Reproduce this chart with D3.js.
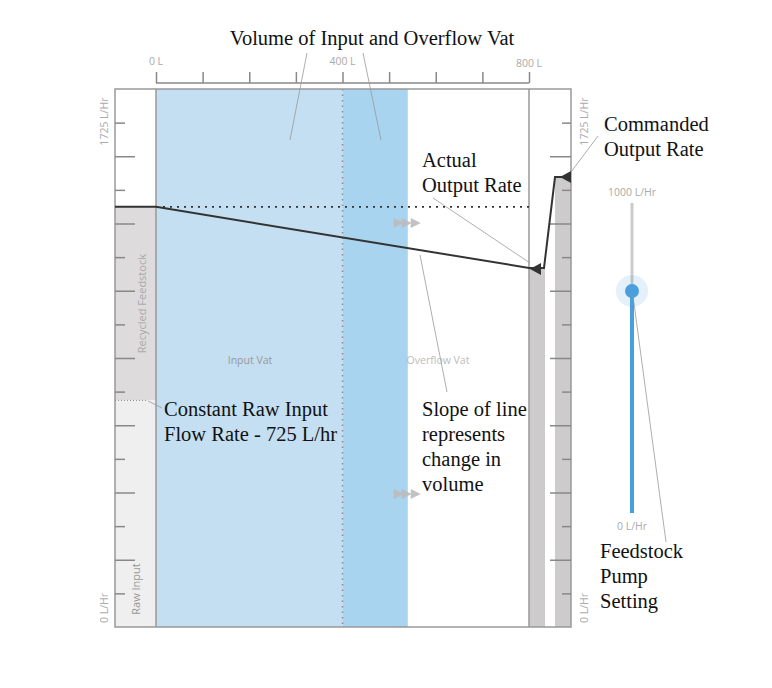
<!DOCTYPE html>
<html>
<head>
<meta charset="utf-8">
<script src="https://cdn.jsdelivr.net/npm/d3@7"></script>
<style>
  body { margin: 0; background: #fff; }
  .small { font-family: "Open Sans", sans-serif; font-size: 10.5px; fill: #aaa; }
  .note { font-family: "Liberation Serif", "Times New Roman", serif; font-size: 20.5px; fill: #111; }
  .leader { stroke: #999; stroke-width: 0.8; fill: none; }
</style>
</head>
<body>
<script>
// ---------------- data ----------------
const volumeTicks = [0, 100, 200, 300, 400, 500, 600, 700, 800];
const volumeLabels = [0, 400, 800];
const rateTicks = [115, 230, 345, 460, 575, 690, 805, 920, 1035, 1150, 1265, 1380, 1495, 1610, 1725];
const rateLabels = [0, 1725];

const inputVatVolume = 400;     // L
const overflowVatVolume = 540;  // L (cumulative end)
const rawInputRate = 775;       // L/Hr
const totalInputRate = 1437;    // L/Hr
const actualOutputRate = 1228;  // L/Hr
const commandedOutputRate = 1539; // L/Hr
const pumpSetting = 716;        // L/Hr, of 1000
const pumpRange = [0, 1000];

const W = 772, H = 688;
const svg = d3.select('body').append('svg').attr('width', W).attr('height', H);

// main scales
const x = d3.scaleLinear().domain([0, 800]).range([156, 529]);
const y = d3.scaleLinear().domain([0, 1840]).range([627, 89]);
const frameLeft = 115, frameRight = 571;
const col1 = [529, 545], col2 = [555, 571];

// ---------------- backgrounds ----------------
const g = svg.append('g');

// left strip: recycled + raw input
g.append('rect').attr('x', frameLeft).attr('width', x(0) - frameLeft)
	.attr('y', y(totalInputRate)).attr('height', y(rawInputRate) - y(totalInputRate)).attr('fill', '#dddbdc');
g.append('rect').attr('x', frameLeft).attr('width', x(0) - frameLeft)
	.attr('y', y(rawInputRate)).attr('height', y(0) - y(rawInputRate)).attr('fill', '#efefef');

// vats
g.append('rect').attr('x', x(0)).attr('width', x(inputVatVolume) - x(0))
	.attr('y', y.range()[1]).attr('height', y(0) - y.range()[1]).attr('fill', '#c3dff1');
g.append('rect').attr('x', x(inputVatVolume)).attr('width', x(overflowVatVolume) - x(inputVatVolume))
	.attr('y', y.range()[1]).attr('height', y(0) - y.range()[1]).attr('fill', '#a8d4f0');

// output columns
g.append('rect').attr('x', col1[0]).attr('width', col1[1] - col1[0])
	.attr('y', y(actualOutputRate)).attr('height', y(0) - y(actualOutputRate)).attr('fill', '#cdcbcc');
g.append('rect').attr('x', col2[0]).attr('width', col2[1] - col2[0])
	.attr('y', y(commandedOutputRate)).attr('height', y(0) - y(commandedOutputRate)).attr('fill', '#cdcbcc');

// vertical dotted at 400 L
g.append('line').attr('x1', x(400)).attr('x2', x(400)).attr('y1', y.range()[1]).attr('y2', y(0))
	.attr('stroke', '#8a8f96').attr('stroke-width', 1.5).attr('stroke-dasharray', '1.5,4');

// frame
g.append('rect').attr('x', frameLeft).attr('y', y.range()[1])
	.attr('width', frameRight - frameLeft).attr('height', y(0) - y.range()[1])
	.attr('fill', 'none').attr('stroke', '#999').attr('stroke-width', 1.5);
[x(0), x(800)].forEach((xx) => {
	g.append('line').attr('x1', xx).attr('x2', xx).attr('y1', y.range()[1]).attr('y2', y(0))
		.attr('stroke', '#999').attr('stroke-width', 1.5);
});

// ---------------- axes ----------------
// top volume axis
const topAxis = svg.append('g').attr('transform', 'translate(0,83)')
	.call(d3.axisTop(x).tickValues(volumeTicks).tickSize(11).tickFormat(''));
topAxis.select('.domain').attr('stroke', '#888').attr('stroke-width', 1.5).attr('d', `M${x(0)},0H${x(800)}`);
topAxis.selectAll('.tick line').attr('stroke', '#888').attr('stroke-width', 1.5);
svg.selectAll('.vlab').data(volumeLabels).join('text').attr('class', 'small')
	.attr('x', (d) => x(d)).attr('y', (d) => (d === 800 ? 67 : 65)).attr('text-anchor', 'middle')
	.text((d) => `${d} L`);

// left rate ticks
const leftAxis = svg.append('g').attr('transform', `translate(${frameLeft},0)`)
	.call(d3.axisRight(y).tickValues(rateTicks).tickSize(10).tickFormat(''));
leftAxis.select('.domain').remove();
leftAxis.selectAll('.tick line').attr('stroke', '#888').attr('stroke-width', 1.5)
	.attr('x2', (d, i) => (i % 2 === 1 ? 20 : 10));

// right rate ticks
const rightAxis = svg.append('g').attr('transform', `translate(${frameRight},0)`)
	.call(d3.axisLeft(y).tickValues(rateTicks).tickSize(9).tickFormat(''));
rightAxis.select('.domain').remove();
rightAxis.selectAll('.tick line').attr('stroke', '#888').attr('stroke-width', 1.5)
	.attr('x2', (d, i) => (i % 2 === 1 ? -21 : -9));

// rotated rate labels
const rateLab = (xx, d) => {
	const yy = d === 0 ? y(0) - 4 : y(d) + 23;
	svg.append('text').attr('class', 'small')
		.attr('transform', `translate(${xx},${yy}) rotate(-90)`)
		.text(`${d} L/Hr`);
};
rateLabels.forEach((d) => { rateLab(108, d); rateLab(588, d); });

// in-chart labels
svg.append('text').attr('class', 'small').style('font-size', '11px')
	.attr('transform', `translate(146,${(y(totalInputRate) + y(rawInputRate)) / 2}) rotate(-90)`)
	.attr('text-anchor', 'middle').text('Recycled Feedstock');
svg.append('text').attr('class', 'small').style('font-size', '11px')
	.attr('transform', `translate(140,${y(0) - 38}) rotate(-90)`)
	.attr('text-anchor', 'middle').style('fill', '#999').text('Raw Input');
svg.append('text').attr('class', 'small').style('fill', '#999')
	.attr('x', 250).attr('y', 364).attr('text-anchor', 'middle').text('Input Vat');
svg.append('text').attr('class', 'small').style('fill', '#bbb')
	.attr('x', 438).attr('y', 364).attr('text-anchor', 'middle').text('Overflow Vat');

// flow arrows
[223, 494].forEach((yy) => {
	[0, 8, 17].forEach((dx) => {
		const x0 = x(overflowVatVolume) - 14 + dx;
		svg.append('path').attr('d', `M${x0},${yy - 5}L${x0 + 10},${yy}L${x0},${yy + 5}Z`)
			.attr('fill', '#bbb').attr('opacity', 0.9);
	});
});

// ---------------- rate lines ----------------
svg.append('line').attr('x1', x(0)).attr('x2', x(800))
	.attr('y1', y(totalInputRate)).attr('y2', y(totalInputRate))
	.attr('stroke', '#333').attr('stroke-width', 1.8).attr('stroke-dasharray', '2,5');

// raw input dotted marker
svg.append('line').attr('x1', frameLeft).attr('x2', x(0) - 8)
	.attr('y1', y(rawInputRate)).attr('y2', y(rawInputRate))
	.attr('stroke', '#888').attr('stroke-width', 1).attr('stroke-dasharray', '1,2');

const linePts = [
	[frameLeft, y(totalInputRate)],
	[x(0), y(totalInputRate)],
	[x(800), y(actualOutputRate)],
	[col1[1] - 1, y(actualOutputRate)],
	[col2[0], y(commandedOutputRate)],
	[col2[1], y(commandedOutputRate)],
];
svg.append('path').attr('d', d3.line()(linePts))
	.attr('fill', 'none').attr('stroke', '#333').attr('stroke-width', 2).attr('stroke-linejoin', 'miter');

// triangle markers
const tri = (xr, yy) => svg.append('path')
	.attr('d', `M${xr},${yy - 6}L${xr},${yy + 6}L${xr - 11},${yy}Z`).attr('fill', '#333');
tri(col1[0] + 12, y(actualOutputRate) + 1);
tri(col2[1], y(commandedOutputRate));

// ---------------- pump slider ----------------
const sx = 632;
const sy = d3.scaleLinear().domain(pumpRange).range([513, 203]);
svg.append('line').attr('x1', sx).attr('x2', sx).attr('y1', sy(pumpRange[1])).attr('y2', sy(pumpSetting))
	.attr('stroke', '#cccccc').attr('stroke-width', 3);
svg.append('line').attr('x1', sx).attr('x2', sx).attr('y1', sy(pumpSetting)).attr('y2', sy(pumpRange[0]))
	.attr('stroke', '#4a9fdc').attr('stroke-width', 4);
svg.append('circle').attr('cx', sx).attr('cy', sy(pumpSetting)).attr('r', 16)
	.attr('fill', '#4a9fdc').attr('opacity', 0.15);
svg.append('circle').attr('cx', sx).attr('cy', sy(pumpSetting)).attr('r', 7).attr('fill', '#4a9fdc');
svg.append('text').attr('class', 'small').attr('x', sx).attr('y', sy(pumpRange[1]) - 7)
	.attr('text-anchor', 'middle').text('1000 L/Hr');
svg.append('text').attr('class', 'small').attr('x', sx).attr('y', sy(pumpRange[0]) + 17)
	.attr('text-anchor', 'middle').text('0 L/Hr');

// ---------------- annotations ----------------
const note = (xx, yy, lines, anchor = 'start') => {
	const t = svg.append('text').attr('class', 'note').attr('text-anchor', anchor);
	lines.forEach((l, i) => t.append('tspan').attr('x', xx).attr('y', yy + i * 25).text(l));
};
note(372, 45, ['Volume of Input and Overflow Vat'], 'middle');
note(422, 167, ['Actual', 'Output Rate']);
note(604, 131, ['Commanded', 'Output Rate']);
note(164, 416, ['Constant Raw Input', 'Flow Rate - 725 L/hr']);
note(422, 416, ['Slope of line', 'represents', 'change in', 'volume']);
note(600, 558, ['Feedstock', 'Pump', 'Setting']);

const leaders = [
	[[307, 53], [290, 140]],
	[[363, 53], [381, 140]],
	[[433, 198], [530, 263]],
	[[598, 136], [571, 172]],
	[[447, 392], [420, 255]],
	[[666, 542], [633, 296]],
	[[148, 401], [162, 408]],
];
leaders.forEach((p) => svg.append('path').attr('class', 'leader').attr('d', d3.line()(p)));
</script>
</body>
</html>
